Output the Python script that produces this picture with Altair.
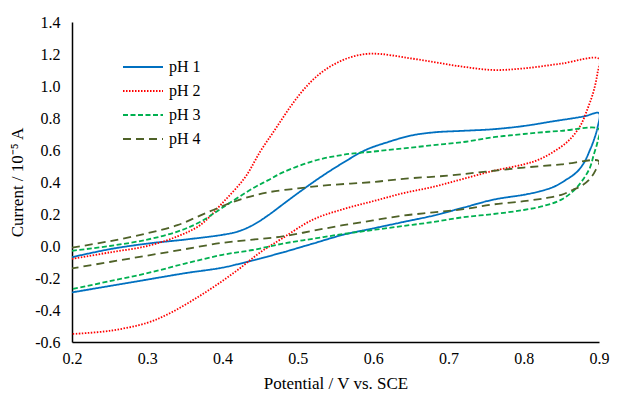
import altair as alt
import pandas as pd

# ---- data (potential in V vs SCE, current in 1e-5 A) ----
series_names = ["pH 1", "pH 2", "pH 3", "pH 4"]
series_colors = ["#0070C0", "#FF0000", "#00B050", "#4F6228"]
series_dashes = [[1, 0], [1.5, 1.5], [5, 2.5], [8, 5]]

x_ticks = [0.2, 0.3, 0.4, 0.5, 0.6, 0.7, 0.8, 0.9]
y_ticks = [-0.6, -0.4, -0.2, 0.0, 0.2, 0.4, 0.6, 0.8, 1.0, 1.2, 1.4]

ph1_E = [0.20, 0.25, 0.30, 0.35, 0.40, 0.42, 0.44, 0.46, 0.48, 0.50, 0.53, 0.56, 0.59, 0.62, 0.65, 0.68, 0.72, 0.76, 0.80, 0.84, 0.88, 0.90,
         0.898, 0.893, 0.888, 0.880, 0.870, 0.855, 0.840, 0.820, 0.800, 0.760, 0.720, 0.680, 0.640, 0.600, 0.560, 0.520, 0.480, 0.440, 0.400, 0.350, 0.300, 0.250, 0.200]
ph1_I = [-0.07, -0.02, 0.015, 0.04, 0.07, 0.09, 0.13, 0.19, 0.26, 0.33, 0.43, 0.52, 0.60, 0.65, 0.69, 0.71, 0.72, 0.73, 0.75, 0.78, 0.81, 0.83,
         0.74, 0.66, 0.60, 0.52, 0.46, 0.41, 0.37, 0.34, 0.32, 0.29, 0.24, 0.19, 0.15, 0.11, 0.07, 0.015, -0.04, -0.09, -0.135, -0.17, -0.21, -0.25, -0.29]

ph2_E = [0.20, 0.25, 0.30, 0.34, 0.37, 0.40, 0.43, 0.45, 0.47, 0.49, 0.51, 0.53, 0.55, 0.57, 0.59, 0.61, 0.64, 0.68, 0.72, 0.76, 0.80, 0.85, 0.90,
         0.898, 0.893, 0.885, 0.875, 0.860, 0.840, 0.820, 0.800, 0.760, 0.720, 0.680, 0.640, 0.600, 0.560, 0.520, 0.480, 0.450, 0.420, 0.390, 0.360, 0.330, 0.300, 0.250, 0.200]
ph2_I = [-0.08, -0.04, 0.0, 0.06, 0.13, 0.27, 0.43, 0.59, 0.73, 0.87, 0.99, 1.08, 1.14, 1.18, 1.20, 1.20, 1.18, 1.15, 1.12, 1.10, 1.11, 1.14, 1.17,
         1.08, 0.97, 0.86, 0.75, 0.66, 0.59, 0.54, 0.51, 0.47, 0.42, 0.37, 0.33, 0.28, 0.23, 0.165, 0.05, -0.04, -0.15, -0.25, -0.34, -0.42, -0.48, -0.53, -0.55]

ph3_E = [0.20, 0.25, 0.30, 0.34, 0.37, 0.40, 0.44, 0.46, 0.48, 0.52, 0.56, 0.60, 0.64, 0.68, 0.72, 0.76, 0.80, 0.85, 0.90,
         0.898, 0.893, 0.888, 0.878, 0.865, 0.850, 0.830, 0.800, 0.760, 0.720, 0.680, 0.640, 0.600, 0.560, 0.520, 0.480, 0.440, 0.400, 0.350, 0.300, 0.250, 0.200]
ph3_I = [-0.03, 0.0, 0.04, 0.09, 0.15, 0.24, 0.36, 0.41, 0.46, 0.53, 0.57, 0.59, 0.61, 0.63, 0.65, 0.68, 0.70, 0.72, 0.73,
         0.65, 0.57, 0.49, 0.41, 0.34, 0.29, 0.255, 0.225, 0.20, 0.18, 0.15, 0.125, 0.10, 0.075, 0.045, 0.015, -0.025, -0.055, -0.11, -0.17, -0.22, -0.27]

ph4_E = [0.20, 0.25, 0.30, 0.34, 0.37, 0.40, 0.43, 0.46, 0.50, 0.54, 0.60, 0.64, 0.70, 0.75, 0.80, 0.85, 0.90,
         0.895, 0.888, 0.878, 0.865, 0.850, 0.830, 0.800, 0.760, 0.720, 0.680, 0.640, 0.600, 0.560, 0.520, 0.480, 0.440, 0.400, 0.350, 0.300, 0.250, 0.200]
ph4_I = [-0.01, 0.03, 0.08, 0.13, 0.19, 0.25, 0.30, 0.335, 0.36, 0.38, 0.40, 0.42, 0.44, 0.465, 0.49, 0.51, 0.53,
         0.47, 0.42, 0.38, 0.35, 0.32, 0.30, 0.28, 0.26, 0.23, 0.21, 0.19, 0.16, 0.13, 0.095, 0.06, 0.04, 0.02, -0.02, -0.06, -0.10, -0.14]

rows = []
for name, E, I in zip(series_names, [ph1_E, ph2_E, ph3_E, ph4_E], [ph1_I, ph2_I, ph3_I, ph4_I]):
    for k, (e, i) in enumerate(zip(E, I)):
        rows.append({"series": name, "E": e, "I": i, "k": k})
df = pd.DataFrame(rows)

FONT = "Liberation Serif"

chart = alt.Chart(df).mark_line(strokeWidth=1.8, clip=True, interpolate="catmull-rom").encode(
    x=alt.X("E:Q", scale=alt.Scale(domain=[0.2, 0.9], nice=False, zero=False),
            axis=alt.Axis(values=x_ticks, format=".1f", title="Potential / V vs. SCE",
                          labelFlush=False, labelFont=FONT)),
    y=alt.Y("I:Q", scale=alt.Scale(domain=[-0.6, 1.4], nice=False, zero=False),
            axis=alt.Axis(values=y_ticks, title="Current / 10⁻⁵ A", labelFont=FONT,
                          labelExpr="replace(format(datum.value, '.1f'), '\u2212', '-')")),
    color=alt.Color("series:N", scale=alt.Scale(domain=series_names, range=series_colors),
                    legend=alt.Legend(title=None, orient="none", legendX=60, legendY=34,
                                      symbolType="M-2,0H2", symbolSize=400, symbolStrokeWidth=1.8,
                                      labelFont=FONT, labelFontSize=16, labelColor="black",
                                      labelOffset=15, rowPadding=5, padding=0)),
    strokeDash=alt.StrokeDash("series:N", scale=alt.Scale(domain=series_names, range=series_dashes)),
    order="k:Q",
    detail="series:N",
).properties(
    width=527, height=320, autosize="none",
    padding={"left": 64, "top": 14, "right": 11, "bottom": 53},
).configure(font=FONT).configure_view(stroke=None).configure_axis(
    grid=False, ticks=False, domainColor="black", domainWidth=1.5,
    labelFont=FONT, labelFontSize=16, labelColor="black",
    titleFont=FONT, titleFontSize=17, titleFontWeight="normal", titleColor="black",
).configure_legend(labelFont=FONT).configure_axisX(labelPadding=8, titlePadding=9).configure_axisY(labelPadding=12, titlePadding=8)

chart.save("out.html", embed_options={"renderer": "svg", "actions": False})
